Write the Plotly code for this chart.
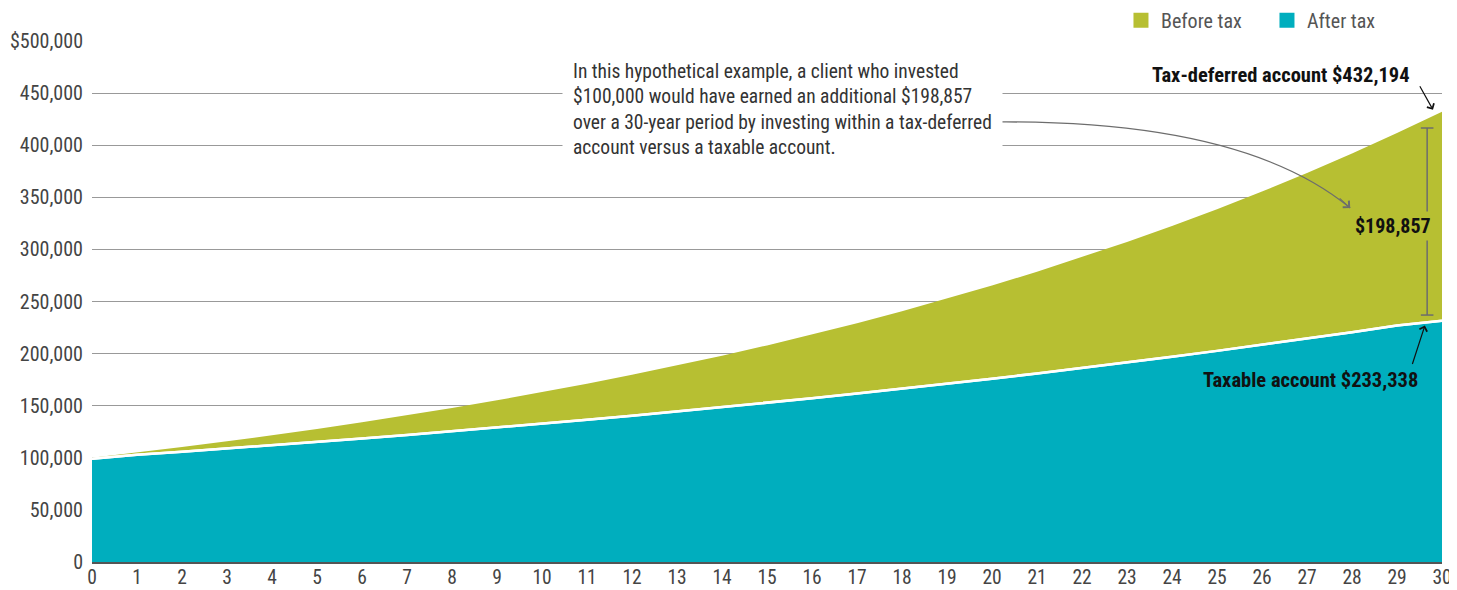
import plotly.graph_objects as go

years = list(range(0, 31))
before_tax = [100000, 105000, 110250, 115763, 121551, 127628, 134010, 140710, 147746, 155133,
              162889, 171034, 179586, 188565, 197993, 207893, 218287, 229202, 240662, 252695,
              265330, 278596, 292526, 307152, 322510, 338635, 355567, 373346, 392013, 411614,
              432194]
after_tax = [99000, 102865, 105812, 108844, 111962, 115170, 118470, 121864, 125355, 128946,
             132640, 136440, 140349, 144370, 148506, 152761, 157138, 161640, 166271, 171035,
             175935, 180976, 186161, 191494, 196980, 202624, 208429, 214400, 220543, 226862,
             231500]
y_ticks = [0, 50000, 100000, 150000, 200000, 250000, 300000, 350000, 400000, 450000, 500000]
y_tick_text = ["0", "50,000", "100,000", "150,000", "200,000", "250,000", "300,000",
               "350,000", "400,000", "450,000", "$500,000"]
series_names = ["Before tax", "After tax"]
note_text = ("In this hypothetical example, a client who invested<br>"
             "$100,000 would have earned an additional $198,857<br>"
             "over a 30-year period by investing within a tax-deferred<br>"
             "account versus a taxable account.")
label_deferred = "Tax-deferred account $432,194"
label_taxable = "Taxable account $233,338"
label_diff = "$198,857"
bracket_low = 237000
bracket_high = 416500

OLIVE = "#B7BF32"
TEAL = "#00AEBE"
FONT = "Roboto Condensed, Liberation Sans Narrow, Roboto, sans-serif"

fig = go.Figure()
fig.add_trace(go.Scatter(x=years, y=after_tax, mode="lines", fill="tozeroy",
                         fillcolor=TEAL, line=dict(color="white", width=2.5),
                         showlegend=False, hoverinfo="skip"))
fig.add_trace(go.Scatter(x=years, y=before_tax, mode="lines", fill="tonexty",
                         fillcolor=OLIVE, line=dict(color=OLIVE, width=0),
                         showlegend=False, hoverinfo="skip"))
fig.add_trace(go.Scatter(x=years, y=after_tax, mode="lines",
                         line=dict(color="white", width=2.5),
                         showlegend=False, hoverinfo="skip"))
# legend entries
fig.add_trace(go.Scatter(x=[None], y=[None], mode="markers", name=series_names[0],
                         marker=dict(symbol="square", size=15, color=OLIVE)))
fig.add_trace(go.Scatter(x=[None], y=[None], mode="markers", name=series_names[1],
                         marker=dict(symbol="square", size=15, color=TEAL)))

# bracket for difference
bx = 29.67
fig.add_shape(type="line", x0=bx, x1=bx, y0=bracket_low, y1=bracket_high,
              line=dict(color="#6d6d6d", width=1.5))
fig.add_shape(type="line", x0=bx - 0.14, x1=bx + 0.14, y0=bracket_low, y1=bracket_low,
              line=dict(color="#6d6d6d", width=1.5))
fig.add_shape(type="line", x0=bx - 0.14, x1=bx + 0.14, y0=bracket_high, y1=bracket_high,
              line=dict(color="#6d6d6d", width=1.5))

# curved arrow from note to difference label
fig.add_shape(type="path", path="M 20.1,422300 Q 25.6,424000 27.96,339700",
              line=dict(color="#6d6d6d", width=1.3))
fig.add_annotation(x=27.96, y=339700, ax=-12, ay=-11, text="", showarrow=True,
                   arrowhead=4, arrowsize=1.6, arrowwidth=1.1, arrowcolor="#6d6d6d")

fig.add_annotation(x=10.45, y=434500, text=note_text, showarrow=False, align="left",
                   xanchor="left", yanchor="middle", bgcolor="white", borderpad=10,
                   font=dict(family=FONT, size=19.5, color="#333333"))
fig.add_annotation(x=28.91, y=322400, text="<b>" + label_diff + "</b>", showarrow=False,
                   bgcolor=OLIVE, borderpad=2,
                   font=dict(family=FONT, size=20, color="#111111"))
fig.add_annotation(x=26.42, y=467400, text="<b>" + label_deferred + "</b>", showarrow=False,
                   font=dict(family=FONT, size=20.5, color="#111111"))
fig.add_annotation(x=29.8, y=434000, ax=-14, ay=-25, text="", showarrow=True,
                   arrowhead=4, arrowsize=1.3, arrowwidth=1.2, arrowcolor="#111111")
fig.add_annotation(x=27.07, y=174600, text="<b>" + label_taxable + "</b>", showarrow=False,
                   font=dict(family=FONT, size=20.5, color="#111111"))
fig.add_annotation(x=29.62, y=227000, ax=-13, ay=40, text="", showarrow=True,
                   arrowhead=4, arrowsize=1.3, arrowwidth=1.2, arrowcolor="#111111")

# page body has an 8px margin; size the figure so the plot lands where the reference has it
fig.update_layout(
    width=1449, height=582,
    margin=dict(l=84, r=15, t=33, b=28, autoexpand=False),
    plot_bgcolor="white", paper_bgcolor="white",
    font=dict(family=FONT, size=20, color="#444444"),
    legend=dict(orientation="h", x=0.9785, xanchor="right", y=1.04, yanchor="middle",
                traceorder="normal", entrywidth=101,
                font=dict(family=FONT, size=20, color="#555555"), itemwidth=30,
                bgcolor="rgba(0,0,0,0)"),
    xaxis=dict(range=[0, 30], tickmode="array", tickvals=years,
               ticktext=[str(v) for v in years], showgrid=False, zeroline=False,
               showline=True, linecolor="#555555", linewidth=2, ticks="",
               automargin=False, ticklabelstandoff=-3,
               tickfont=dict(family=FONT, size=19.5, color="#444444")),
    yaxis=dict(range=[0, 500000], tickmode="array", tickvals=y_ticks, ticktext=y_tick_text,
               showgrid=True, gridcolor="#999999", gridwidth=1.3, zeroline=False,
               showline=False, ticks="", ticklabelstandoff=8, automargin=False,
               tickfont=dict(family=FONT, size=20, color="#444444")),
)

fig.write_html("out.html")
